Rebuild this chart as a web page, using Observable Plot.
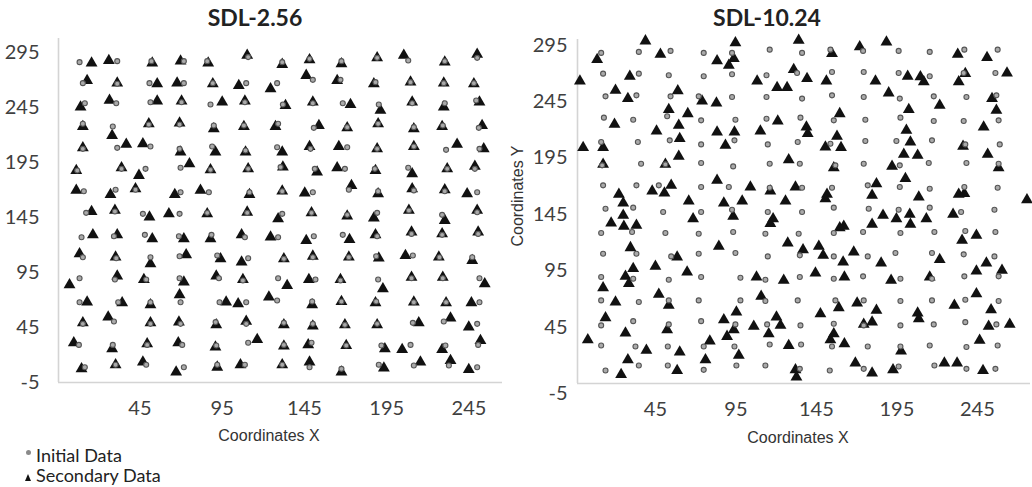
<!DOCTYPE html>
<html>
<head>
<meta charset="utf-8">
<script src="https://cdn.jsdelivr.net/npm/d3@7"></script>
<script src="https://cdn.jsdelivr.net/npm/@observablehq/plot@0.6"></script>
<style>
html, body { margin: 0; padding: 0; background: #fff; overflow: hidden; }
#wrap { position: relative; width: 1032px; height: 487px; overflow: hidden; font-family: Lato, sans-serif; }
.abs { position: absolute; white-space: nowrap; }
.title { font-family: Lato, sans-serif; font-weight: bold; font-size: 23px; line-height: 1.2; color: #222; text-align: center; width: 240px; }
.axlab { font-family: "Liberation Sans", Arial, sans-serif; font-size: 16px; line-height: 16px; color: #333; text-align: center; width: 160px; }
.leg { font-family: Lato, sans-serif; font-size: 18px; line-height: 1; color: #222; }
</style>
</head>
<body>
<div id="wrap">
  <div id="left" class="abs" style="left:0;top:0"></div>
  <div id="right" class="abs" style="left:520px;top:0"></div>
  <div id="t1" class="abs title" style="left:135px;top:4px"></div>
  <div id="t2" class="abs title" style="left:647px;top:4px"></div>
  <div id="xl1" class="abs axlab" style="left:189px;top:428px"></div>
  <div id="xl2" class="abs axlab" style="left:718px;top:429.5px"></div>
  <div id="yl2" class="abs axlab" style="left:438px;top:188px;transform:rotate(-90deg);"></div>
  <div class="abs" style="left:26px;top:450px;width:5px;height:5px;border-radius:50%;background:#8a8a8a;"></div>
  <div id="lg1" class="abs leg" style="left:36px;top:446px"></div>
  <div class="abs" style="left:25px;top:474px;width:0;height:0;border-left:3.5px solid transparent;border-right:3.5px solid transparent;border-bottom:7px solid #111;"></div>
  <div id="lg2" class="abs leg" style="left:36px;top:466px"></div>
</div>
<script>
// ---- text ----
const panelTitles = ["SDL-2.56", "SDL-10.24"];
const xAxisLabel = "Coordinates X";
const yAxisLabel = "Coordinates Y";
const legendLabels = ["Initial Data", "Secondary Data"];

// ---- ticks ----
const xTicks = [45, 95, 145, 195, 245];
const yTicks = [295, 245, 195, 145, 95, 45];
const yBottomTick = [-5];

// ---- SDL-2.56 : initial data [x, y] ----
const leftInitial = [
[8.3,286.2],[31.2,287.1],[52.0,287.1],[71.7,287.1],[85.9,287.1],[110.8,290.8],[131.5,286.2],[148.1,289.2],[167.5,287.1],[189.2,290.1],[208.1,287.7],[230.3,287.1],[250.0,290.1],
[10.3,267.1],[31.2,266.5],[50.8,267.1],[71.7,267.1],[89.3,267.1],[109.6,267.1],[128.4,267.1],[150.1,270.1],[166.9,270.1],[188.2,268.0],[209.5,268.0],[229.7,267.1],[248.0,267.1],
[11.5,248.9],[30.6,248.9],[51.4,249.8],[70.3,249.8],[87.9,247.7],[108.8,249.8],[131.9,247.7],[150.1,248.9],[168.3,248.9],[190.2,247.7],[210.5,248.9],[230.3,248.9],[249.4,251.4],
[10.3,230.2],[28.5,227.7],[50.4,229.5],[69.1,229.5],[89.9,228.6],[108.2,228.6],[129.0,230.2],[150.7,226.5],[171.0,227.1],[189.8,230.2],[211.5,227.1],[229.1,228.6],[251.0,226.5],
[10.3,207.4],[31.2,208.3],[51.4,209.5],[69.1,207.4],[88.9,209.5],[109.2,205.9],[128.4,208.9],[148.7,207.4],[171.0,208.9],[189.2,207.4],[211.5,209.5],[231.1,206.5],[251.4,207.4],
[6.9,187.7],[33.8,189.2],[48.4,189.2],[69.7,190.2],[87.9,188.3],[110.8,189.2],[130.5,190.8],[151.3,189.2],[169.6,189.2],[187.8,189.2],[208.1,190.2],[231.8,189.2],[248.6,189.2],
[10.9,168.9],[30.2,170.2],[42.3,170.2],[69.7,168.0],[86.9,168.0],[111.6,168.0],[131.5,168.9],[150.1,168.0],[172.0,170.2],[189.8,168.9],[211.5,169.6],[230.3,168.9],[250.0,168.0],
[12.3,149.2],[29.8,150.4],[46.8,148.3],[69.1,148.3],[85.9,149.2],[110.2,149.2],[131.5,148.3],[149.3,149.2],[171.0,147.4],[189.2,149.2],[208.5,151.4],[228.7,147.4],[250.0,149.8],
[9.5,127.1],[29.2,128.0],[48.0,129.2],[68.7,128.0],[88.5,129.2],[108.8,127.1],[129.0,127.1],[150.7,128.0],[168.3,129.2],[189.2,128.0],[210.1,130.1],[228.7,129.2],[250.6,130.1],
[10.3,108.9],[30.6,108.0],[51.4,108.9],[69.1,109.8],[92.0,110.4],[110.8,108.0],[132.5,107.4],[150.1,108.9],[172.0,108.9],[188.6,109.8],[210.9,110.4],[227.1,108.9],[247.0,108.9],
[8.3,89.8],[29.8,88.6],[48.8,88.6],[69.1,89.8],[93.0,89.8],[107.6,87.7],[129.0,89.8],[151.7,88.6],[166.9,87.7],[189.8,88.6],[210.1,89.8],[229.1,89.8],[251.4,89.8],
[8.3,68.0],[31.8,68.0],[51.4,68.0],[69.7,68.0],[93.4,68.0],[109.6,68.0],[128.4,69.5],[149.7,68.6],[167.5,68.6],[188.6,68.6],[211.5,68.0],[231.1,68.0],[251.4,68.0],
[10.3,48.3],[29.2,50.5],[51.4,48.3],[69.7,48.3],[91.0,49.9],[109.6,48.3],[132.5,49.2],[150.1,48.3],[169.6,47.4],[189.2,48.3],[210.9,49.2],[229.7,50.5],[250.0,48.3],
[7.9,29.2],[28.5,29.2],[49.4,29.2],[70.7,29.2],[91.4,28.6],[110.8,31.1],[132.5,29.2],[149.3,31.1],[170.4,28.6],[191.8,28.6],[209.5,29.2],[230.7,28.6],[250.6,29.2],
[11.5,8.9],[30.2,11.1],[48.8,11.1],[71.7,8.9],[92.0,11.1],[108.8,11.1],[131.5,11.1],[148.1,8.9],[167.5,7.4],[190.2,11.1],[211.5,10.4],[232.8,10.4],[250.0,8.9]
];

// ---- SDL-2.56 : secondary data [x, y] ----
const leftSecondary = [
[15.6,285.3],[26.1,287.7],[52.5,285.3],[69.7,287.1],[86.5,285.3],[110.2,292.3],[131.5,284.1],[148.1,288.3],[167.5,284.7],[189.2,290.1],[205.4,292.3],[230.3,286.2],[250.0,293.2],
[12.9,269.5],[31.2,267.1],[55.5,266.5],[67.6,267.1],[89.3,266.5],[105.1,265.0],[124.4,262.0],[146.1,274.1],[164.9,269.5],[187.2,266.5],[209.5,268.0],[229.7,267.1],[248.0,266.5],
[8.9,245.3],[26.5,251.4],[55.5,250.8],[70.3,250.8],[95.0,249.8],[108.8,250.8],[133.5,246.8],[150.1,249.8],[173.0,247.7],[191.2,242.3],[210.5,249.8],[229.7,245.3],[251.4,249.8],
[10.3,227.7],[28.1,219.5],[50.4,230.2],[69.1,230.8],[89.9,225.6],[108.2,227.7],[127.4,227.7],[153.8,228.6],[171.0,226.5],[189.8,230.2],[211.5,225.6],[228.7,227.7],[253.0,228.6],
[10.3,208.3],[36.7,211.4],[46.8,212.0],[69.7,204.4],[90.9,204.4],[109.2,204.4],[131.5,204.4],[148.1,209.5],[165.9,209.5],[189.2,207.4],[211.5,209.5],[237.8,211.4],[254.0,207.4],
[6.3,187.7],[33.8,190.2],[44.4,183.2],[75.1,193.8],[87.9,188.3],[110.8,189.2],[131.9,190.8],[152.7,186.2],[164.9,190.2],[188.2,187.7],[210.5,184.7],[231.8,189.2],[248.6,191.4],
[6.3,169.6],[27.1,165.9],[42.3,171.1],[66.2,165.9],[81.8,169.6],[111.6,165.9],[131.5,168.9],[145.2,167.1],[173.6,174.1],[189.8,166.5],[210.5,171.1],[230.3,170.2],[243.9,166.5],
[15.6,150.4],[29.8,151.4],[50.8,145.3],[62.6,148.3],[85.9,148.3],[110.2,149.8],[129.0,143.8],[149.3,149.2],[171.0,146.2],[187.2,144.4],[208.5,151.4],[230.3,142.3],[250.0,151.4],
[16.4,129.2],[31.2,129.2],[52.5,125.6],[71.7,125.6],[87.9,125.6],[106.8,129.2],[124.4,127.1],[146.1,124.1],[172.4,125.0],[188.2,129.2],[210.1,131.7],[228.7,130.1],[250.6,131.7],
[8.3,112.0],[30.2,108.9],[51.4,102.9],[73.1,111.1],[94.0,107.4],[106.8,104.4],[132.5,107.4],[150.1,109.8],[172.0,108.9],[190.2,108.0],[206.4,110.4],[226.7,108.9],[247.0,105.9],
[2.2,83.8],[31.2,91.7],[47.4,88.6],[71.7,86.2],[91.4,91.7],[107.6,88.6],[134.5,83.2],[147.7,88.6],[166.9,88.6],[192.7,80.1],[210.1,90.7],[229.1,90.7],[254.6,84.7],
[12.9,68.0],[34.2,67.4],[51.4,65.6],[69.1,74.7],[97.4,68.0],[104.7,66.5],[123.4,72.6],[149.7,65.6],[167.5,68.6],[188.2,67.4],[211.5,68.0],[231.1,67.4],[246.5,67.4],
[10.3,49.2],[25.7,54.4],[51.4,49.2],[68.7,49.9],[91.4,47.4],[109.6,50.5],[132.5,47.4],[150.1,46.2],[169.6,47.4],[189.2,47.4],[214.5,49.2],[233.8,53.5],[244.9,45.3],
[4.8,31.1],[28.1,25.6],[49.4,30.2],[68.3,31.1],[90.9,27.1],[116.3,34.1],[132.5,28.0],[147.3,29.2],[170.4,28.6],[193.9,25.6],[204.4,25.0],[228.7,25.0],[252.0,33.2],
[9.5,7.4],[30.2,11.1],[46.8,13.5],[67.0,4.4],[92.0,8.9],[106.1,11.1],[131.5,11.1],[148.1,13.5],[167.5,4.4],[193.3,8.0],[215.5,13.5],[233.8,15.0],[244.9,6.8]
];

// ---- SDL-10.24 : initial data [x, y] ----
const rightInitial = [
[11.3,288.1],[34.7,289.0],[54.4,289.9],[75.0,288.1],[92.6,288.1],[116.0,291.0],[136.1,288.1],[153.7,291.0],[174.0,289.9],[196.1,289.9],[215.4,289.0],[236.9,291.0],[257.6,291.0],
[12.5,269.7],[34.7,269.7],[53.3,268.3],[75.0,267.4],[92.6,269.2],[114.0,268.3],[133.0,270.3],[154.7,271.2],[174.4,271.2],[196.1,270.3],[215.4,267.4],[236.5,270.3],[256.2,270.3],
[14.0,249.6],[33.2,250.5],[54.4,249.6],[71.9,249.6],[92.6,249.0],[114.0,249.0],[136.1,247.6],[154.7,250.5],[174.4,249.0],[196.8,247.6],[217.9,249.6],[238.2,249.0],[256.8,250.5],
[13.0,230.7],[31.2,228.9],[52.3,231.9],[73.4,228.3],[94.7,228.9],[114.0,229.8],[135.1,230.7],[155.8,228.3],[175.4,228.9],[197.2,230.7],[217.9,227.7],[236.5,227.7],[258.2,228.3],
[11.3,209.1],[34.1,209.1],[53.9,210.6],[73.4,207.0],[94.1,210.6],[114.8,207.0],[133.4,209.1],[153.7,207.6],[175.4,210.0],[194.7,210.0],[216.8,210.6],[237.5,207.0],[258.9,207.0],
[11.9,188.4],[36.1,189.9],[51.2,189.3],[73.4,190.5],[93.3,187.5],[116.0,189.9],[134.7,189.9],[156.8,188.4],[174.4,189.9],[196.8,188.4],[214.8,190.5],[238.2,190.5],[258.2,189.9],
[12.5,170.7],[33.2,170.7],[47.1,170.7],[73.4,169.2],[90.6,169.2],[116.0,168.6],[136.1,168.6],[154.7,168.6],[176.9,170.7],[196.8,169.2],[215.4,167.7],[236.9,169.2],[257.6,168.6],
[14.0,150.0],[31.2,150.9],[49.8,147.0],[73.4,147.0],[92.6,149.1],[114.8,147.0],[136.1,147.0],[155.8,150.9],[177.5,150.0],[196.1,149.1],[215.4,150.9],[234.9,147.0],[255.6,149.1],
[11.3,128.4],[30.5,129.3],[51.2,128.4],[71.9,127.8],[93.3,129.3],[113.3,127.8],[134.0,127.8],[155.8,128.4],[174.0,129.3],[197.2,128.4],[218.3,129.3],[237.5,130.2],[256.2,129.3],
[12.5,110.1],[33.2,110.1],[54.8,107.7],[71.9,110.1],[94.7,110.7],[114.8,107.7],[134.7,108.6],[155.8,107.7],[176.9,107.7],[194.1,110.7],[216.8,110.7],[236.5,109.5],[255.6,107.7],
[11.3,89.4],[31.2,87.9],[53.3,87.0],[73.4,89.4],[97.8,88.8],[113.3,87.0],[134.7,89.4],[155.8,87.9],[174.0,90.0],[197.2,87.9],[216.8,87.9],[236.9,90.0],[258.2,90.0],
[11.3,68.7],[34.7,67.2],[53.3,68.7],[71.9,68.7],[97.8,68.7],[113.3,68.1],[133.4,68.7],[156.8,68.7],[174.4,68.7],[197.2,68.1],[216.8,68.7],[237.5,69.3],[258.2,68.1],
[11.3,46.5],[31.2,50.3],[53.3,47.4],[73.4,50.3],[94.7,47.4],[114.4,47.4],[135.1,46.5],[155.8,48.0],[174.4,46.5],[197.2,46.5],[217.9,47.4],[237.5,49.4],[256.8,47.4],
[11.3,28.7],[32.6,27.8],[52.7,27.8],[75.0,27.8],[94.1,27.8],[116.0,29.6],[135.5,29.6],[154.7,27.8],[176.9,27.8],[197.2,27.8],[215.4,28.7],[238.2,27.3],[257.6,28.7],
[14.0,6.5],[34.7,11.0],[52.7,11.0],[75.0,7.1],[95.3,11.0],[113.3,11.0],[134.7,8.0],[153.3,6.5],[174.4,8.0],[196.1,10.1],[218.3,11.0],[238.2,8.0],[256.2,8.0]
];

// ---- SDL-10.24 : secondary data [x, y] ----
const rightSecondary = [
[38.8,298.7],[94.7,297.0],[134.0,299.3],[171.9,293.4],[188.5,297.8],[8.8,282.2],[48.1,286.9],[83.3,281.0],[93.7,283.1],[90.6,277.1],
[154.7,287.5],[232.8,286.9],[251.0,283.9],[-1.9,263.2],[29.1,267.4],[108.2,263.2],[130.9,273.3],[139.2,265.3],[151.2,263.2],[181.7,263.2],
[201.7,267.4],[209.6,266.8],[211.7,262.4],[237.5,269.7],[233.4,262.4],[263.4,270.3],[120.6,257.3],[126.8,257.3],[20.2,254.9],[27.9,247.6],
[58.9,254.4],[74.0,245.5],[82.9,243.7],[189.9,252.6],[221.6,241.6],[254.1,247.6],[53.3,237.8],[65.1,234.2],[19.6,224.8],[59.5,223.9],
[45.7,218.9],[121.0,227.7],[138.8,222.4],[139.6,216.5],[159.5,234.2],[202.4,237.8],[256.8,237.2],[248.9,222.4],[200.9,219.5],[83.3,218.0],
[94.1,218.0],[110.2,218.9],[60.1,212.1],[88.5,206.1],[0.1,204.1],[12.5,204.1],[157.8,214.1],[150.6,204.7],[160.3,204.1],[203.4,209.1],
[236.1,205.3],[59.5,196.4],[199.3,198.2],[207.9,197.3],[251.4,198.2],[12.5,189.3],[51.2,189.3],[127.8,193.4],[155.8,186.3],[192.0,187.5],
[258.2,186.3],[83.3,175.1],[200.3,176.6],[43.0,165.6],[54.8,170.7],[50.6,163.8],[104.0,169.2],[116.4,165.6],[132.0,169.2],[182.3,172.1],
[22.3,162.7],[151.6,162.7],[179.6,161.8],[208.6,160.3],[233.4,162.7],[236.9,163.3],[25.0,155.0],[65.7,156.8],[87.5,155.0],[98.9,156.8],
[125.8,156.8],[150.6,158.8],[275.8,157.9],
[17.5,137.3],[25.0,144.1],[25.4,134.3],[33.2,135.2],[68.4,141.1],[93.3,143.2],[118.1,141.1],[116.4,136.7],[186.4,144.1],[194.7,141.1],
[203.0,145.0],[203.4,136.1],[213.3,141.1],[229.9,145.0],[159.5,133.1],[162.0,134.3],[179.6,136.1],[235.5,121.9],[244.4,126.3],[29.5,115.4],
[58.5,107.1],[84.4,116.6],[127.2,119.5],[136.7,113.6],[146.5,116.6],[149.2,108.6],[161.6,102.7],[168.2,111.5],[185.2,101.8],[221.6,104.8],
[250.6,101.8],[12.5,79.9],[26.4,90.0],[31.2,96.8],[28.5,83.5],[45.0,98.8],[64.7,93.8],[107.8,89.4],[124.7,86.4],[144.4,92.9],
[162.4,89.4],[191.4,86.4],[215.4,89.4],[244.4,94.7],[260.3,95.3],[20.2,67.2],[47.1,74.0],[53.3,64.2],[110.7,72.2],[95.3,58.3],
[158.9,62.2],[170.3,66.3],[182.3,59.8],[207.9,57.4],[208.6,52.4],[230.7,64.2],[244.4,74.6],[253.5,60.4],[14.0,53.3],[26.4,39.7],
[52.3,42.6],[87.5,51.5],[93.7,42.6],[89.5,36.7],[106.1,45.6],[120.2,53.9],[122.7,46.5],[115.4,39.1],[147.5,56.8],[155.8,39.1],
[153.7,33.8],[174.4,47.4],[179.6,49.4],[252.0,45.6],[265.1,47.4],[3.0,33.8],[39.4,24.3],[60.1,22.8],[78.8,32.6],[127.8,28.7],
[162.4,30.2],[197.6,23.7],[246.4,33.2],[23.7,3.0],[27.9,16.0],[58.5,6.5],[76.1,16.0],[96.8,19.9],[132.0,7.1],[132.6,0.6],
[169.2,13.1],[179.6,4.2],[192.6,7.1],[224.5,13.1],[232.4,13.1],[248.5,6.5]
];

function panel(initial, secondary, opt) {
  const [x0] = opt.xDomain, [y0] = opt.yDomain;
  return Plot.plot({
    width: opt.width, height: 420,
    marginLeft: opt.mL, marginRight: opt.mR, marginTop: opt.mT, marginBottom: opt.mB,
    x: {domain: opt.xDomain},
    y: {domain: opt.yDomain},
    style: {fontFamily: "Lato, sans-serif", fontSize: "20px", color: "#404040", background: "transparent", overflow: "visible"},
    marks: [
      Plot.ruleX([x0], {stroke: "#d4d4d4", strokeWidth: 1.6}),
      Plot.ruleY([y0], {stroke: "#d4d4d4", strokeWidth: 1.6}),
      Plot.axisX(xTicks, {tickSize: 0, tickPadding: 18, label: null}),
      Plot.axisY(yTicks, {tickSize: 0, tickPadding: opt.yPad, label: null}),
      Plot.text(yBottomTick, {y: d => d, text: d => String(d), frameAnchor: "left", textAnchor: "end", dx: -opt.yPad, dy: opt.minusDy, fill: "#404040"}),
      Plot.dot(secondary, {x: d => d[0], y: d => d[1], symbol: "triangle", r: 4.4, fill: "#111", stroke: "none"}),
      Plot.dot(initial, {x: d => d[0], y: d => d[1], r: 2.5, fill: "#aaaaaa", stroke: "#555", strokeWidth: 1.1})
    ]
  });
}

document.getElementById("left").append(panel(leftInitial, leftSecondary, {
  width: 510, mL: 58, mR: 8, mT: 38, mB: 38,
  xDomain: [-4.5, 265.4], yDomain: [-5, 307.7], yPad: 19, minusDy: 0
}));
document.getElementById("right").append(panel(rightInitial, rightSecondary, {
  width: 512, mL: 57, mR: 2, mT: 39, mB: 37,
  xDomain: [-3.4, 278], yDomain: [-5, 300], yPad: 10, minusDy: 10
}));

document.getElementById("t1").textContent = panelTitles[0];
document.getElementById("t2").textContent = panelTitles[1];
document.getElementById("xl1").textContent = xAxisLabel;
document.getElementById("xl2").textContent = xAxisLabel;
document.getElementById("yl2").textContent = yAxisLabel;
document.getElementById("lg1").textContent = legendLabels[0];
document.getElementById("lg2").textContent = legendLabels[1];
</script>
</body>
</html>
